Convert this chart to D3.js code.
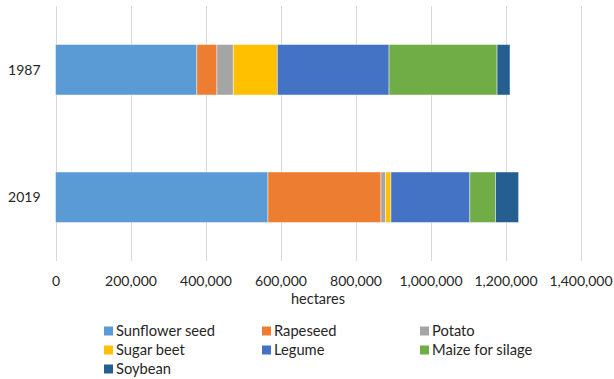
<!DOCTYPE html>
<html>
<head>
<meta charset="utf-8">
<script src="https://cdn.jsdelivr.net/npm/d3@7"></script>
<style>
  html, body { margin: 0; padding: 0; background: #fff; }
  svg { display: block; font-family: Lato, "Open Sans", sans-serif; }
</style>
</head>
<body>
<svg id="chart" width="614" height="379"></svg>
<script>
// Cultivated area by crop, hectares
const years = ["1987", "2019"];
const crops = ["Sunflower seed", "Rapeseed", "Potato", "Sugar beet", "Legume", "Maize for silage", "Soybean"];
const colors = ["#5B9BD5", "#ED7D31", "#A5A5A5", "#FFC000", "#4472C4", "#70AD47", "#255E91"];
const area1987 = [377000, 53500, 43500, 117500, 298000, 288000, 34500];
const area2019 = [566500, 301500, 12500, 14000, 210500, 68500, 61500];
const xTicks = [0, 200000, 400000, 600000, 800000, 1000000, 1200000, 1400000];

const rows = years.map((y, i) => {
  const vals = i === 0 ? area1987 : area2019;
  const r = { year: y };
  crops.forEach((c, j) => r[c] = vals[j]);
  return r;
});

const svg = d3.select("#chart");
const plot = { left: 55.5, right: 580.5, top: 6, bottom: 261 };

const x = d3.scaleLinear().domain([0, 1400000]).range([plot.left, plot.right]);
const y = d3.scaleBand().domain(years).range([plot.top, plot.bottom])
  .paddingInner(0.604).paddingOuter(0.302);

// vertical gridlines
svg.append("g").selectAll("line").data(xTicks).join("line")
  .attr("x1", d => Math.round(x(d)) + 0.5).attr("x2", d => Math.round(x(d)) + 0.5)
  .attr("y1", plot.top).attr("y2", plot.bottom)
  .attr("stroke", "#d9d9d9").attr("stroke-width", 1);

// stacked bars
const stack = d3.stack().keys(crops)(rows);
svg.append("g").selectAll("g").data(stack).join("g")
  .attr("fill", (d, i) => colors[i])
  .selectAll("rect").data(d => d).join("rect")
  .attr("x", d => x(d[0]))
  .attr("y", d => y(d.data.year))
  .attr("width", d => x(d[1]) - x(d[0]))
  .attr("height", y.bandwidth())
  .attr("stroke", "#ffffff").attr("stroke-opacity", 0.6).attr("stroke-width", 0.75);

// x axis labels
const xAxis = d3.axisBottom(x).tickValues(xTicks).tickSize(0).tickPadding(0)
  .tickFormat(d3.format(","));
const gx = svg.append("g").attr("transform", `translate(0,${plot.bottom})`).call(xAxis);
gx.select(".domain").remove();
gx.selectAll("text").attr("dy", null).attr("y", 25)
  .attr("font-size", 14).attr("fill", "#262626").attr("font-family", "Lato, sans-serif");

// y axis labels
const yAxis = d3.axisLeft(y).tickSize(0).tickPadding(15);
const gy = svg.append("g").attr("transform", `translate(${plot.left},0)`).call(yAxis);
gy.select(".domain").remove();
gy.selectAll("text").attr("font-size", 14).attr("fill", "#262626")
  .attr("font-family", "Lato, sans-serif").attr("dy", "0.35em");

// axis title
svg.append("text").attr("x", (plot.left + plot.right) / 2).attr("y", 304)
  .attr("text-anchor", "middle").attr("font-size", 14.5).attr("fill", "#262626")
  .text("hectares");

// legend
const colX = [104, 262, 420];
const legend = svg.append("g").selectAll("g").data(crops).join("g")
  .attr("transform", (d, i) => `translate(${colX[i % 3]},${331 + Math.floor(i / 3) * 19})`);
legend.append("rect").attr("x", 0).attr("y", -4.5).attr("width", 9).attr("height", 9)
  .attr("fill", (d, i) => colors[i]);
legend.append("text").attr("x", 12).attr("dy", "0.35em")
  .attr("font-size", 14.7).attr("fill", "#262626").text(d => d);
</script>
</body>
</html>
